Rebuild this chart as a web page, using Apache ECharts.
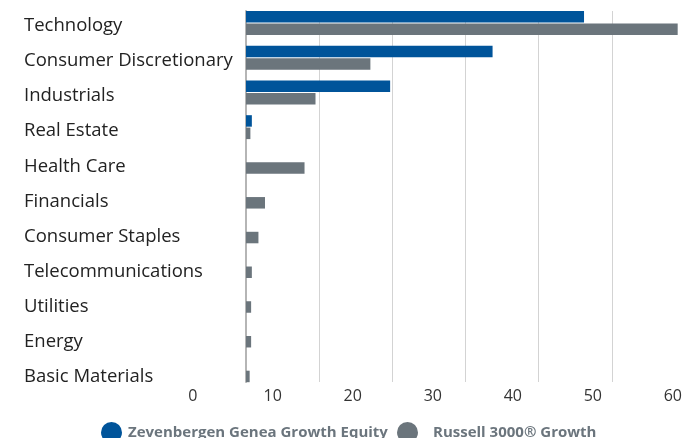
<!DOCTYPE html>
<html><head><meta charset="utf-8">
<script src="https://cdn.jsdelivr.net/npm/echarts@6/dist/echarts.min.js"></script>
<style>html,body{margin:0;padding:0;background:#fff}#c{width:685px;height:438px}</style>
</head><body><div id="c"></div>
<script>
const categories = ["Technology","Consumer Discretionary","Industrials","Real Estate","Health Care","Financials","Consumer Staples","Telecommunications","Utilities","Energy","Basic Materials"];
const zevenbergen = [46.2, 33.7, 19.7, 0.8, 0, 0, 0, 0, 0, 0, 0];
const russell = [59.0, 17.0, 9.5, 0.6, 8.0, 2.6, 1.7, 0.8, 0.7, 0.7, 0.5];
const tickValues = [0, 10, 20, 30, 40, 50, 60];
const seriesNames = ["Zevenbergen Genea Growth Equity", "Russell 3000® Growth"];

const font = "'Open Sans', sans-serif";
const chart = echarts.init(document.getElementById('c'), null, {renderer:'canvas'});
chart.setOption({
  animation: false,
  textStyle: {fontFamily: font},
  legend: [
    {data:[seriesNames[0]], left:101, top:422, padding:0, icon:'circle', itemWidth:21, itemHeight:21, itemGap:0,
     textStyle:{fontFamily:font, fontWeight:'bold', fontSize:15, color:'#6b757d', padding:[0,0,0,1]}},
    {data:[seriesNames[1]], left:397, top:422, padding:0, icon:'circle', itemWidth:21, itemHeight:21, itemGap:0,
     textStyle:{fontFamily:font, fontWeight:'bold', fontSize:15, color:'#6b757d', padding:[0,0,0,10]}}
  ],
  grid: [
    {left:246, width:440, top:5.6, height:382},
    {left:246, width:440, top:11, height:371},
    {left:192.7, width:481.3, top:382, height:1},
    {left:246, width:440, top:8.35, height:386.1}
  ],
  xAxis: [
    {gridIndex:0, type:'value', min:0, max:60, interval:10, show:false},
    {gridIndex:1, type:'value', min:0, max:60, interval:10,
     axisLabel:{show:false}, axisLine:{show:false}, axisTick:{show:false},
     splitLine:{show:true, lineStyle:{color:'#d3d3d3', width:1}}},
    {gridIndex:2, type:'value', min:tickValues[0], max:tickValues[tickValues.length-1], interval:10,
     axisLabel:{show:true, color:'#333', fontSize:16, fontFamily:font, margin:5},
     axisLine:{show:false}, axisTick:{show:false}, splitLine:{show:false}},
    {gridIndex:3, type:'value', min:0, max:60, show:false}
  ],
  yAxis: [
    {gridIndex:0, type:'category', data:categories, inverse:true, show:false},
    {gridIndex:1, type:'value', min:0, max:1,
     axisLine:{show:true, lineStyle:{color:'#b5b5b5', width:2}},
     axisLabel:{show:false}, axisTick:{show:false}, splitLine:{show:false}},
    {gridIndex:2, type:'value', show:false},
    {gridIndex:3, type:'category', data:categories, inverse:true,
     axisLine:{show:false}, axisTick:{show:false}, splitLine:{show:false},
     axisLabel:{align:'left', margin:222, color:'#222', fontSize:18.5, fontFamily:font}}
  ],
  series: [
    {name:seriesNames[0], type:'bar', xAxisIndex:0, yAxisIndex:0, data:zevenbergen,
     barWidth:11.5, barGap:'8%', itemStyle:{color:'#00549a'}, z:3},
    {name:seriesNames[1], type:'bar', xAxisIndex:0, yAxisIndex:0, data:russell,
     barWidth:11.5, barGap:'8%', itemStyle:{color:'#6b757c'}, z:3}
  ]
});
</script></body></html>
